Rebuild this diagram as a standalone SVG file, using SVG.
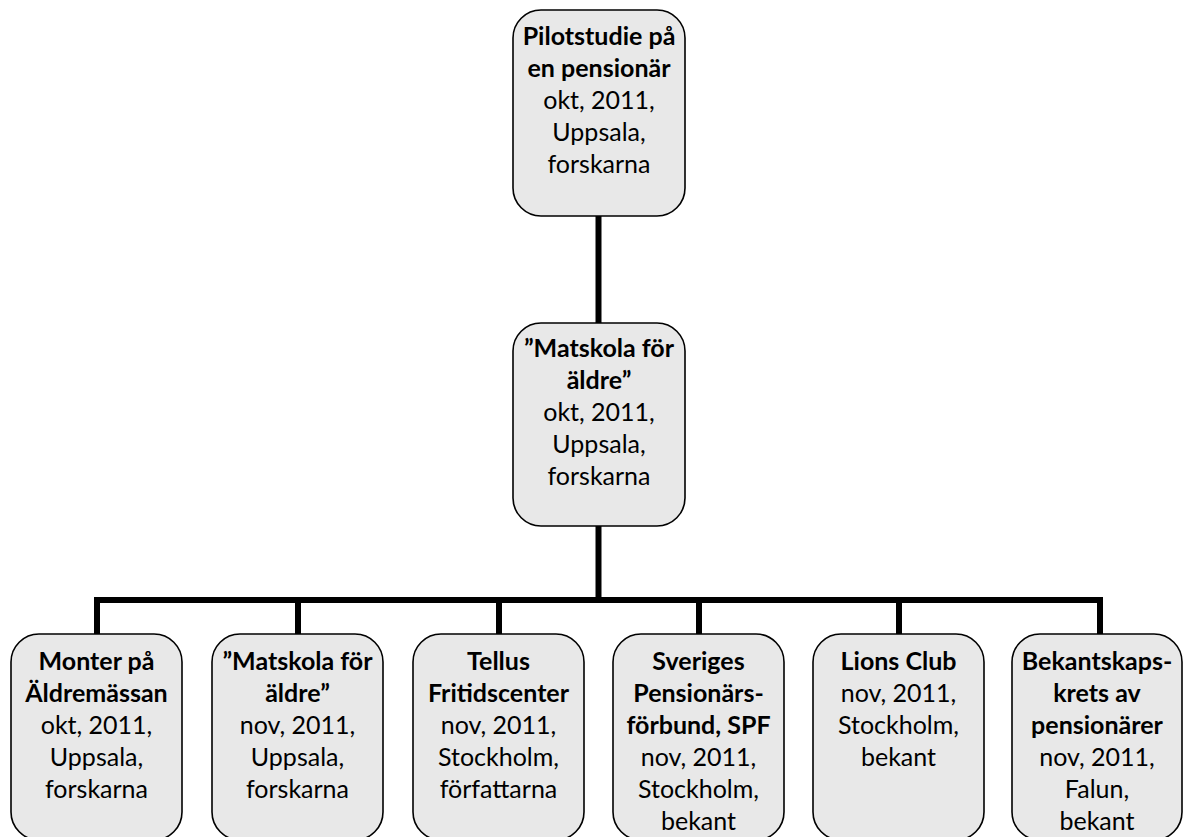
<svg xmlns="http://www.w3.org/2000/svg" width="1184" height="837" viewBox="0 0 1184 837">
<style>
.box{fill:#e8e8e8;stroke:#000;stroke-width:1.6}
.t{font-family:Lato,"Liberation Sans",sans-serif;font-size:25px;text-anchor:middle;fill:#000}
.b{font-weight:bold}
.c{stroke:#000;stroke-width:6;fill:none;stroke-linecap:butt}
</style>
<rect width="1184" height="837" fill="#fff"/>
<g id="connectors">
<line class="c" x1="598.5" y1="216" x2="598.5" y2="323"/>
<line class="c" x1="598.5" y1="526" x2="598.5" y2="603"/>
<line class="c" x1="94" y1="600" x2="1103" y2="600"/>
<line class="c" x1="97" y1="597" x2="97" y2="634"/>
<line class="c" x1="298" y1="600" x2="298" y2="634"/>
<line class="c" x1="499" y1="600" x2="499" y2="634"/>
<line class="c" x1="699" y1="600" x2="699" y2="634"/>
<line class="c" x1="899" y1="600" x2="899" y2="634"/>
<line class="c" x1="1100" y1="597" x2="1100" y2="634"/>
</g>
<g id="n-pilot">
<rect class="box" x="513" y="10" width="172" height="206" rx="28"/>
<text class="t b" x="599" y="45">Pilotstudie på</text>
<text class="t b" x="599" y="77">en pensionär</text>
<text class="t" x="599" y="109">okt, 2011,</text>
<text class="t" x="599" y="141">Uppsala,</text>
<text class="t" x="599" y="173">forskarna</text>
</g>
<g id="n-matskola">
<rect class="box" x="513" y="323" width="172" height="203" rx="28"/>
<text class="t b" x="599" y="357">”Matskola för</text>
<text class="t b" x="599" y="389">äldre”</text>
<text class="t" x="599" y="421">okt, 2011,</text>
<text class="t" x="599" y="453">Uppsala,</text>
<text class="t" x="599" y="485">forskarna</text>
</g>
<g id="n-monter">
<rect class="box" x="11" y="634" width="171" height="206" rx="28"/>
<text class="t b" x="96.5" y="670">Monter på</text>
<text class="t b" x="96.5" y="702">Äldremässan</text>
<text class="t" x="96.5" y="734">okt, 2011,</text>
<text class="t" x="96.5" y="766">Uppsala,</text>
<text class="t" x="96.5" y="798">forskarna</text>
</g>
<g id="n-matskola2">
<rect class="box" x="212" y="634" width="171" height="206" rx="28"/>
<text class="t b" x="297.5" y="670">”Matskola för</text>
<text class="t b" x="297.5" y="702">äldre”</text>
<text class="t" x="297.5" y="734">nov, 2011,</text>
<text class="t" x="297.5" y="766">Uppsala,</text>
<text class="t" x="297.5" y="798">forskarna</text>
</g>
<g id="n-tellus">
<rect class="box" x="413" y="634" width="171" height="206" rx="28"/>
<text class="t b" x="498.5" y="670">Tellus</text>
<text class="t b" x="498.5" y="702">Fritidscenter</text>
<text class="t" x="498.5" y="734">nov, 2011,</text>
<text class="t" x="498.5" y="766">Stockholm,</text>
<text class="t" x="498.5" y="798">författarna</text>
</g>
<g id="n-spf">
<rect class="box" x="613" y="634" width="171" height="206" rx="28"/>
<text class="t b" x="698.5" y="670">Sveriges</text>
<text class="t b" x="698.5" y="702">Pensionärs-</text>
<text class="t b" x="698.5" y="734">förbund, SPF</text>
<text class="t" x="698.5" y="766">nov, 2011,</text>
<text class="t" x="698.5" y="798">Stockholm,</text>
<text class="t" x="698.5" y="830">bekant</text>
</g>
<g id="n-lions">
<rect class="box" x="813" y="634" width="171" height="206" rx="28"/>
<text class="t b" x="898.5" y="670">Lions Club</text>
<text class="t" x="898.5" y="702">nov, 2011,</text>
<text class="t" x="898.5" y="734">Stockholm,</text>
<text class="t" x="898.5" y="766">bekant</text>
</g>
<g id="n-bekant">
<rect class="box" x="1012" y="634" width="170" height="206" rx="28"/>
<text class="t b" x="1097" y="670">Bekantskaps-</text>
<text class="t b" x="1097" y="702">krets av</text>
<text class="t b" x="1097" y="734">pensionärer</text>
<text class="t" x="1097" y="766">nov, 2011,</text>
<text class="t" x="1097" y="798">Falun,</text>
<text class="t" x="1097" y="830">bekant</text>
</g>
</svg>
